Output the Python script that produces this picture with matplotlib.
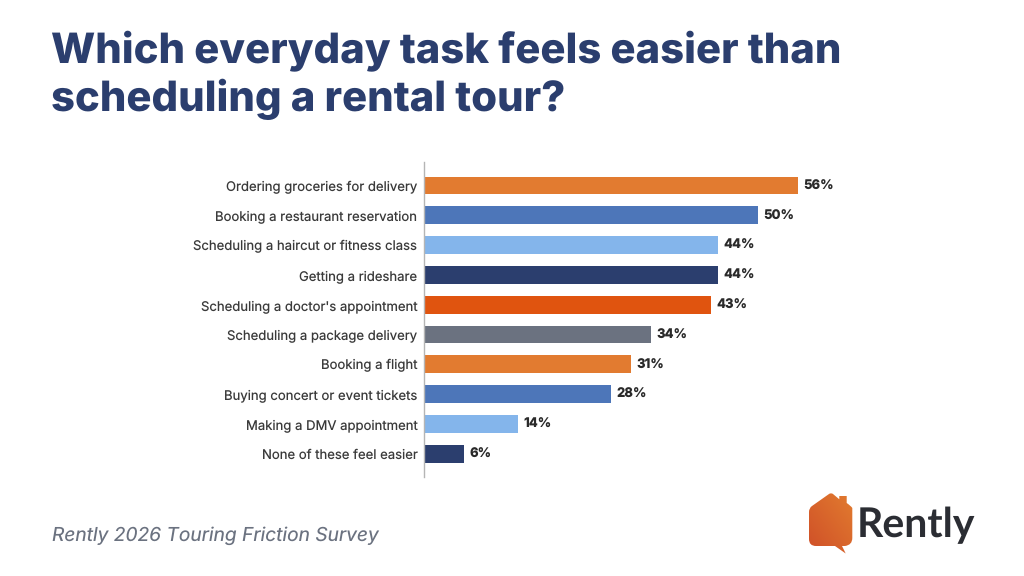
import matplotlib.pyplot as plt
import numpy as np
from matplotlib.colors import LinearSegmentedColormap
from matplotlib.patches import PathPatch
from matplotlib.path import Path

plt.rcParams['font.family'] = ['Inter', 'DejaVu Sans']
plt.rcParams['text.hinting'] = 'no_hinting'
plt.rcParams['text.hinting_factor'] = 1

# survey results
categories = ['Ordering groceries for delivery', 'Booking a restaurant reservation',
              'Scheduling a haircut or fitness class', 'Getting a rideshare',
              "Scheduling a doctor's appointment", 'Scheduling a package delivery',
              'Booking a flight', 'Buying concert or event tickets',
              'Making a DMV appointment', 'None of these feel easier']
values = [56, 50, 44, 44, 43, 34, 31, 28, 14, 6]
colors = ['#E27B30', '#4D76B9', '#84B5EB', '#2B3E6E', '#E0540F',
          '#6B7280', '#E27B30', '#4D76B9', '#84B5EB', '#2B3E6E']

W, H = 1024, 576
fig = plt.figure(figsize=(W / 100, H / 100), dpi=100, facecolor='white')

# bar chart, placed in pixel terms
left, right, top, bottom = 424.3, 824.7, 162, 477
ax = fig.add_axes([left / W, 1 - bottom / H, (right - left) / W, (bottom - top) / H])
y = np.arange(len(categories))
ax.barh(y, values, height=0.6, color=colors)
ax.set_xlim(0, 60)
ax.set_ylim(9.78, -0.79)
ax.set_yticks(y, categories, fontsize=9.45, color='#3A3A3A', va='center_baseline')
ax.tick_params(axis='y', length=0, pad=5)
ax.set_xticks([])
for s in ['top', 'right', 'bottom']:
    ax.spines[s].set_visible(False)
ax.spines['left'].set_color('#B5B5B5')
ax.spines['left'].set_linewidth(1)
for i, v in enumerate(values):
    ax.text(v + 0.8, i + 0.02, f'{v}%', va='center', ha='left', fontsize=9.4,
            fontweight='heavy', color='#2A2A2A')

# full-figure overlay for the title, footer and logo
ov = fig.add_axes([0, 0, 1, 1], zorder=-1)
ov.axis('off')
ov.text(51, 51, 'Which everyday task feels easier than', fontsize=30.1, fontweight='heavy',
        color='#2B3E6E', va='center', ha='left')
ov.text(51, 99, 'scheduling a rental tour?', fontsize=30.1, fontweight='heavy',
        color='#2B3E6E', va='center', ha='left')
ov.text(52, 536, 'Rently 2026 Touring Friction Survey', fontsize=13.8, style='italic',
        color='#6B7280', va='center', ha='left')

# logo: house-shaped speech bubble with a gradient fill
verts = [(809, 512), (809, 508), (812, 506), (829, 494), (831, 492.5), (833, 494),
         (839.3, 499.3), (839.3, 496), (846.7, 496), (846.7, 503), (851, 506), (852.3, 508),
         (852.3, 538), (852.3, 545), (845, 546), (842, 546), (845.7, 553.5), (835, 546),
         (816, 546), (809, 546), (809, 539), (809, 512)]
codes = [Path.MOVETO, Path.CURVE3, Path.CURVE3, Path.LINETO, Path.CURVE3, Path.CURVE3,
         Path.LINETO, Path.LINETO, Path.LINETO, Path.LINETO, Path.CURVE3, Path.CURVE3,
         Path.LINETO, Path.CURVE3, Path.CURVE3, Path.LINETO, Path.LINETO, Path.LINETO,
         Path.LINETO, Path.CURVE3, Path.CURVE3, Path.LINETO]
house = PathPatch(Path(verts, codes), facecolor='none', edgecolor='none')
ov.add_patch(house)
gx, gy = np.meshgrid(np.linspace(0, 1, 64), np.linspace(0, 1, 64))
logo_cmap = LinearSegmentedColormap.from_list('logo', ['#CF4F28', '#E27C2F'])
grad = ov.imshow(gx + (1 - gy), extent=(809, 853, 554, 492), origin='upper', aspect='auto',
                 cmap=logo_cmap)
grad.set_clip_path(house)
ov.set_xlim(0, W)
ov.set_ylim(H, 0)
ov.text(857, 537, 'Rently', fontsize=29.4, fontweight='bold', family=['Lato', 'DejaVu Sans'],
        color='#2B2D33', va='baseline', ha='left')

plt.savefig('out.png', dpi=100)
